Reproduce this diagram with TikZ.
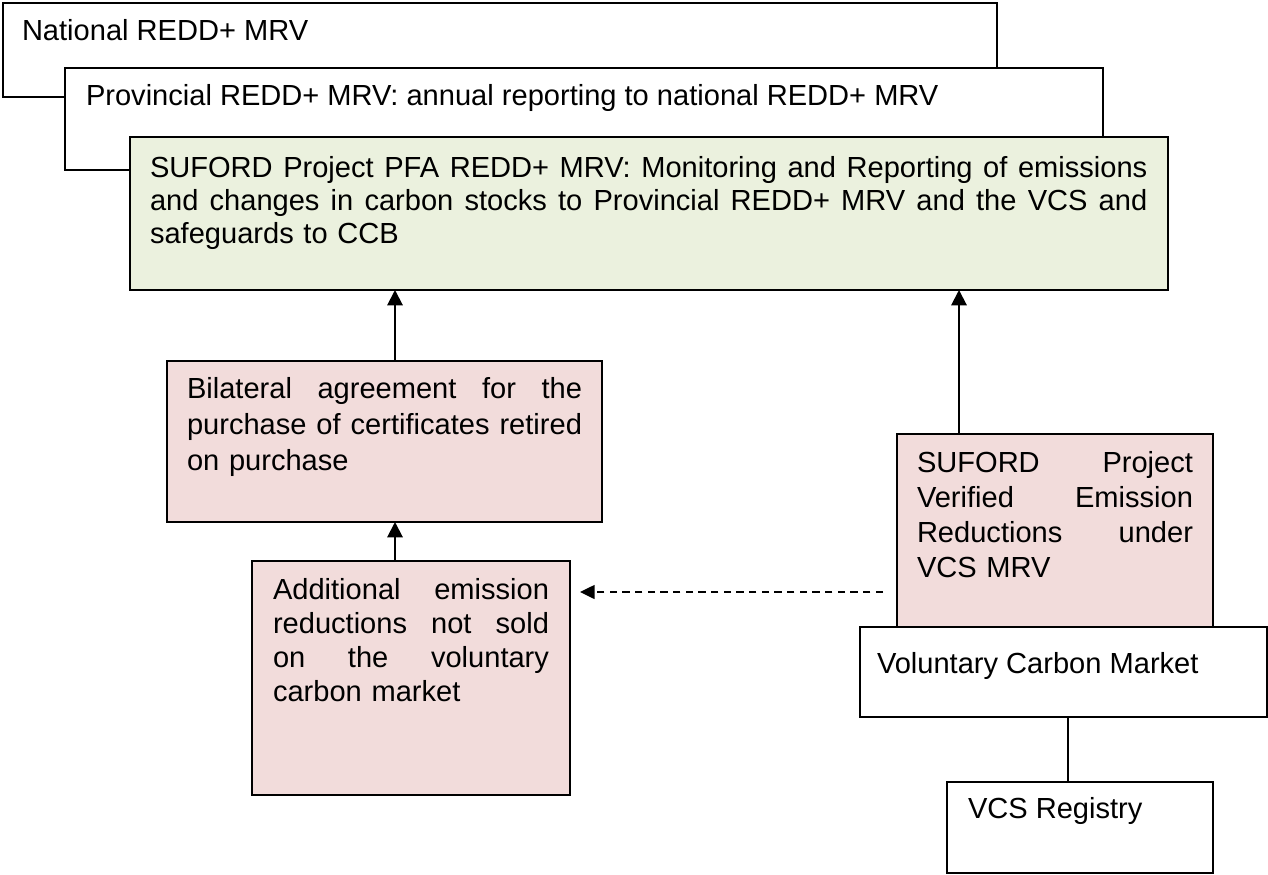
\documentclass[tikz,border=0pt]{standalone}
\usepackage{fontspec}
\setmainfont{Liberation Sans}
\usetikzlibrary{arrows.meta,calc}
\definecolor{boxgreen}{RGB}{235,241,222}
\definecolor{boxpink}{RGB}{242,220,219}
\newcommand\jline[2]{\leavevmode\hbox to #1{\spaceskip=0.3em plus 10em\relax #2}}
\begin{document}
\begin{tikzpicture}[x=0.75pt,y=-0.75pt,
  box/.style={draw, line width=1.5pt, rectangle, inner sep=0pt, outer sep=0pt, anchor=north west, fill=white},
  wh/.style 2 args={minimum width={#1*0.75pt}, minimum height={#2*0.75pt}},
  txt/.style={inner sep=0pt, outer sep=0pt, anchor=base west, align=left},
  fs/.style={font=\fontsize{21.8}{#1}\selectfont},
  arr/.style={line width=1.5pt, -{Triangle[length=11.5pt,width=11.5pt]}},
  conn/.style={line width=1.5pt},
  darr/.style={line width=1.1pt, dash pattern=on 5.5pt off 4pt, -{Triangle[length=11pt,width=10.5pt]}}
]
\useasboundingbox (0,0) rectangle (1268,875);

% stacked top boxes
\node[box, wh={994}{94}] (nat) at (3,3) {};
\node[txt, fs=24.75pt] (natt) at (22,40) {National REDD+ MRV};
\node[box, wh={1038}{102}] (prov) at (65,68) {};
\node[txt, fs=24.75pt] (provt) at (86,105) {Provincial REDD+ MRV: annual reporting to national REDD+ MRV};
\node[box, fill=boxgreen, wh={1038}{153}] (green) at (130,137) {};
\node[txt, fs=24.75pt, text width=748pt] (greent) at (150,177)
  {\jline{748pt}{SUFORD Project PFA REDD+ MRV: Monitoring and Reporting of emissions}\\
   \jline{748pt}{and changes in carbon stocks to Provincial REDD+ MRV and the VCS and}\\
   safeguards to CCB};

% bilateral agreement
\node[box, fill=boxpink, wh={435}{161}] (bil) at (167,361) {};
\node[txt, fs=27pt, text width=296.25pt] (bilt) at (187,398)
  {\jline{296.25pt}{Bilateral agreement for the}\\
   \jline{296.25pt}{purchase of certificates retired}\\
   on purchase};

% additional emission reductions
\node[box, fill=boxpink, wh={318}{234}] (addl) at (252,561) {};
\node[txt, fs=25.7pt, text width=207pt] (addlt) at (273,599)
  {\jline{207pt}{Additional emission}\\
   \jline{207pt}{reductions not sold}\\
   \jline{207pt}{on the voluntary}\\
   carbon market};

% SUFORD verified emission reductions
\node[box, fill=boxpink, wh={316}{206}] (rbox) at (897,434) {};
\node[txt, fs=26.25pt, text width=207pt] (rboxt) at (917,472)
  {\jline{207pt}{SUFORD Project}\\
   \jline{207pt}{Verified Emission}\\
   \jline{207pt}{Reductions under}\\
   VCS MRV};

% voluntary carbon market and registry
\node[box, wh={407}{90}] (vcm) at (860,627) {};
\node[txt, fs=24.75pt] (vcmt) at (877,673) {Voluntary Carbon Market};
\node[box, wh={266}{91}] (reg) at (947,782) {};
\node[txt, fs=24.75pt] (regt) at (968,818) {VCS Registry};

% connectors
\coordinate (c1) at ($(bil.north west)+(228,0)$);
\draw[arr] (c1) -- (c1 |- green.south);
\coordinate (c2) at ($(addl.north west)+(143,0)$);
\draw[arr] (c2) -- (c2 |- bil.south);
\coordinate (c3) at ($(rbox.north west)+(62,0)$);
\draw[arr] (c3) -- (c3 |- green.south);
\coordinate (c4) at ($(vcm.south west)+(208,0)$);
\draw[conn] (c4) -- (c4 |- reg.north);
\coordinate (d1) at ($(rbox.north west)+(-14,158)$);
\draw[darr] (d1) -- ($(d1 -| addl.east)+(10,0)$);
\end{tikzpicture}
\end{document}
